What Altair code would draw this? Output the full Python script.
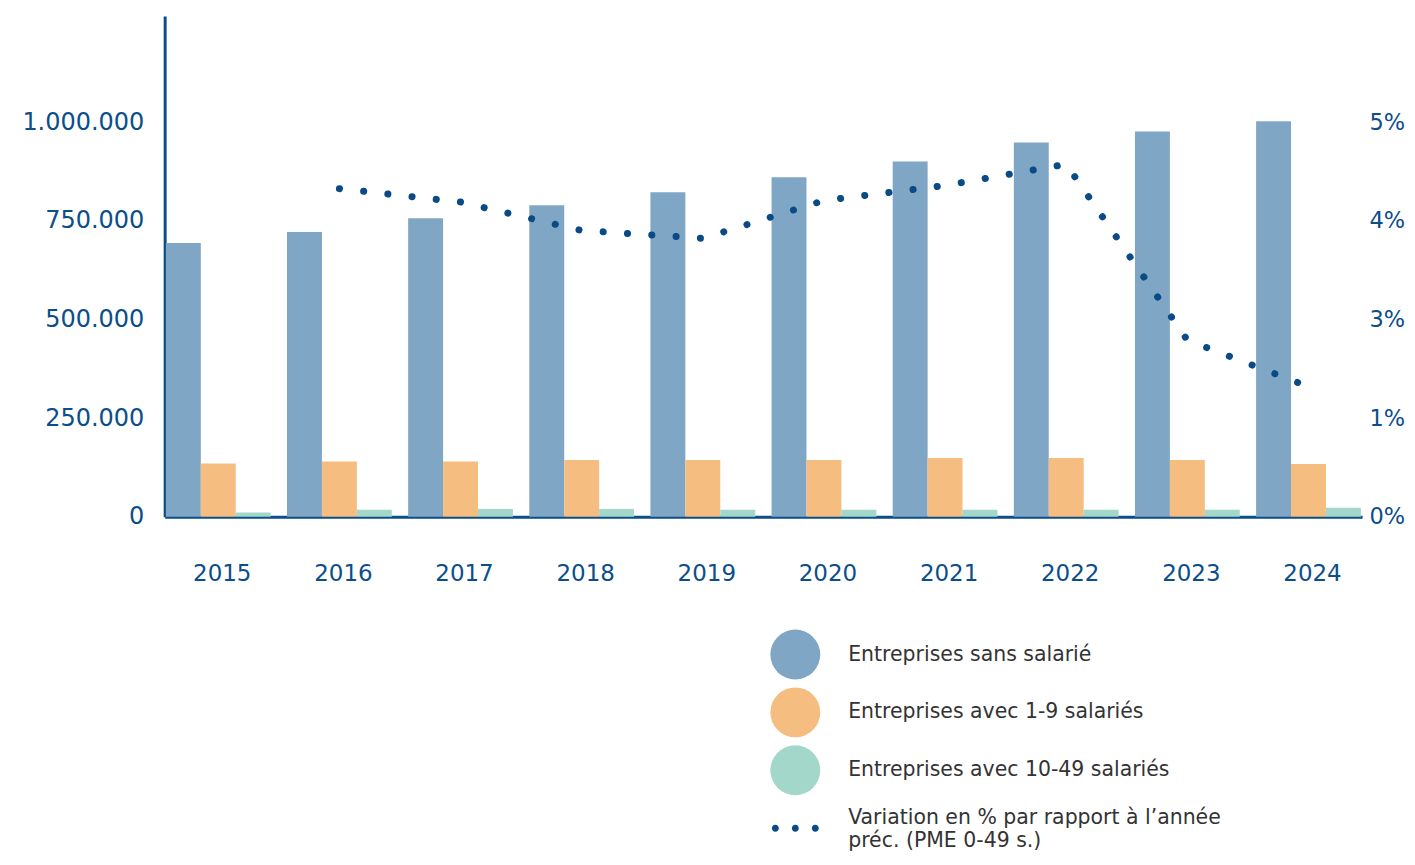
import altair as alt
import pandas as pd

# ---------------- data ----------------
years = ["2015", "2016", "2017", "2018", "2019", "2020", "2021", "2022", "2023", "2024"]
sans_salarie = [694000, 722000, 757000, 790000, 823000, 861000, 901000, 949000, 977000, 1003000]
avec_1_9 = [135000, 140000, 140000, 144000, 144000, 144000, 149000, 149000, 144000, 134000]
avec_10_49 = [11000, 18000, 20000, 20000, 18000, 18000, 18000, 18000, 18000, 23000]

var_years = ["2016", "2017", "2018", "2019", "2020", "2021", "2022", "2023", "2024"]
variation = [4.16, 3.99, 3.63, 3.53, 4.01, 4.20, 4.47, 2.24, 1.65]

series_names = [
    "Entreprises sans salarié",
    "Entreprises avec 1-9 salariés",
    "Entreprises avec 10-49 salariés",
    "Variation en % par rapport à l’année préc. (PME 0-49 s.)",
]
series_colors = ["#7fa6c4", "#f6bd81", "#a3d7c9", "#0a4a86"]

left_ticks = [0, 250000, 500000, 750000, 1000000]
right_tick_values = [0, 1.25, 2.5, 3.75, 5]
right_tick_labels = ["0%", "1%", "3%", "4%", "5%"]

NAVY = "#0b4e8a"
FONT = "DejaVu Sans"

# ---------------- tables ----------------
bar_df = pd.DataFrame({
    "year": years * 3,
    "series": [series_names[0]] * 10 + [series_names[1]] * 10 + [series_names[2]] * 10,
    "value": sans_salarie + avec_1_9 + avec_10_49,
})
line_df = pd.DataFrame({"year": var_years, "variation": variation})

dots_path = ("M-0.94,0A0.14,0.14,0,1,0,-0.66,0A0.14,0.14,0,1,0,-0.94,0Z "
             "M-0.14,0A0.14,0.14,0,1,0,0.14,0A0.14,0.14,0,1,0,-0.14,0Z "
             "M0.66,0A0.14,0.14,0,1,0,0.94,0A0.14,0.14,0,1,0,0.66,0Z")

right_label_expr = "{" + ",".join(
    f"'{v}': '{l}'" for v, l in zip(right_tick_values, right_tick_labels)
) + "}[datum.value]"

legend_label_expr = (
    "indexof(datum.label, 'Variation') == 0 ? "
    "['Variation en % par rapport à l’année', 'préc. (PME 0-49 s.)'] : datum.label"
)

legend_common = dict(
    title=None, orient="none", legendX=607, legendY=615,
    symbolSize=2500, symbolStrokeWidth=0, labelFont=FONT, labelFontSize=20.5,
    labelColor="#333333", labelOffset=28, rowPadding=8, labelLimit=700,
    padding=0, labelExpr=legend_label_expr,
    labelBaseline={"expr": "indexof(datum.label, 'Variation') == 0 ? 'bottom' : 'middle'"},
)

x_enc = alt.X(
    "year:N",
    scale=alt.Scale(paddingInner=0.135, paddingOuter=0.01),
    axis=alt.Axis(title=None, labelAngle=0, labelFont=FONT, labelFontSize=23,
                  labelColor=NAVY, labelPadding=46, labelOffset=4, ticks=False,
                  domainColor=NAVY, domainWidth=3, grid=False),
)

y_left = alt.Y(
    "value:Q",
    scale=alt.Scale(domain=[0, 1270000], nice=False),
    axis=alt.Axis(title=None, values=left_ticks, grid=False, ticks=False,
                  labelExpr="replace(replace(format(datum.value, ','), ',', '.'), ',', '.')",
                  labelFont=FONT, labelFontSize=24, labelColor=NAVY, labelPadding=21,
                  domainColor=NAVY, domainWidth=3),
)

color_enc = alt.Color(
    "series:N",
    scale=alt.Scale(domain=series_names, range=series_colors),
    legend=alt.Legend(**legend_common),
)

bars = alt.Chart(bar_df).mark_bar().encode(
    x=x_enc,
    xOffset=alt.XOffset("series:N", scale=alt.Scale(domain=series_names[:3],
                                                     paddingInner=0, paddingOuter=0)),
    y=y_left,
    color=color_enc,
)

legend_pts = alt.Chart(bar_df).mark_point(filled=True, opacity=1).encode(
    x=alt.X("year:N"),
    y=alt.Y("value:Q"),
    color=color_enc,
    shape=alt.Shape(
        "series:N",
        scale=alt.Scale(domain=series_names,
                        range=["circle", "circle", "circle", dots_path]),
        legend=alt.Legend(**legend_common),
    ),
).transform_filter("false")

line = alt.Chart(line_df).mark_line(
    strokeDash=[0.1, 24.3], strokeCap="round", strokeWidth=7, color="#0a4a86"
).encode(
    x=alt.X("year:N"),
    y=alt.Y(
        "variation:Q",
        scale=alt.Scale(domain=[0, 6.35], nice=False),
        axis=alt.Axis(orient="right", title=None, values=right_tick_values,
                      labelExpr=right_label_expr, domain=False, ticks=False, grid=False,
                      labelFont=FONT, labelFontSize=22.5, labelColor=NAVY, labelPadding=7),
    ),
)

chart = alt.layer(alt.layer(bars, legend_pts), line).resolve_scale(
    y="independent"
).properties(
    width=1200, height=502,
    padding={"left": 157, "top": 7, "right": 45, "bottom": 335},
    autosize=alt.AutoSizeParams(type="none"),
    background="white",
).configure_view(stroke=None)

chart.save("out.html", embed_options={"renderer": "svg", "actions": False})
